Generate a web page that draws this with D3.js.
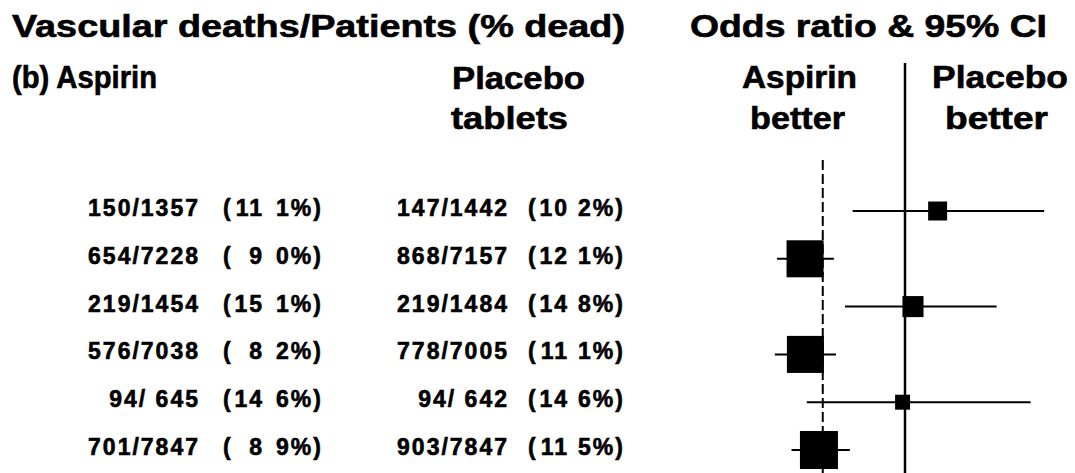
<!DOCTYPE html>
<html>
<head>
<meta charset="utf-8">
<script src="https://cdn.jsdelivr.net/npm/d3@7/dist/d3.min.js"></script>
<style>
  html, body { margin: 0; padding: 0; background: #fff; }
  svg { display: block; }
  text { font-family: "Liberation Sans", Arial, Helvetica, sans-serif; font-weight: bold; fill: #000; stroke: #000; stroke-width: 0.6px; }
</style>
</head>
<body>
<svg id="chart" width="1075" height="473"></svg>
<script>
// ---- data ----
const aspirinDeaths   = [150, 654, 219, 576, 94, 701];
const aspirinPatients = [1357, 7228, 1454, 7038, 645, 7847];
const aspirinPct      = [11.1, 9.0, 15.1, 8.2, 14.6, 8.9];
const placeboDeaths   = [147, 868, 219, 778, 94, 903];
const placeboPatients = [1442, 7157, 1484, 7005, 642, 7847];
const placeboPct      = [10.2, 12.1, 14.8, 11.1, 14.6, 11.5];
const oddsRatio       = [1.094, 0.712, 1.023, 0.713, 0.993, 0.752];
const ciLow           = [0.849, 0.631, 0.827, 0.625, 0.717, 0.673];
const ciHigh          = [1.401, 0.795, 1.264, 0.801, 1.362, 0.841];
const weightPct       = [6.9, 26.3, 8.5, 26.3, 4.3, 27.7];
const overallOR       = 0.763;
const nullOR          = 1;

const rows = d3.range(aspirinDeaths.length);
const svg = d3.select("#chart");

// ---- scales ----
const x = d3.scaleLinear().domain([0.6, 1.4]).range([766.2, 1043.8]);
const y = d3.scalePoint().domain(rows).range([211, 450]);
const side = d3.scaleSqrt().domain([0, 100]).range([0, 72.2]);

// ---- headings ----
const headFont = 31;
const headings = [
  {t: "Vascular deaths/Patients (% dead)", x: 12,  y: 37,  len: 613},
  {t: "Odds ratio & 95% CI",               x: 690, y: 37,  len: 357},
  {t: "(b) Aspirin",                       x: 12,  y: 88,  len: 145},
  {t: "Placebo",                           x: 452, y: 89,  len: 133},
  {t: "tablets",                           x: 451, y: 129, len: 117},
  {t: "Aspirin",                           x: 742, y: 88,  len: 115},
  {t: "better",                            x: 750, y: 129, len: 95},
  {t: "Placebo",                           x: 932, y: 88,  len: 136},
  {t: "better",                            x: 945, y: 129, len: 103}
];
svg.append("g").selectAll("text").data(headings).join("text")
  .attr("x", d => d.x).attr("y", d => d.y)
  .attr("font-size", headFont)
  .attr("textLength", d => d.len)
  .attr("lengthAdjust", "spacingAndGlyphs")
  .text(d => d.t);

// ---- number columns ----
const numFont = 23;
const ls = 2;
function pctParts(v) {
  const s = v.toFixed(1).split(".");
  return {i: s[0], d: s[1]};
}
function column(deaths, patients, pct, fracRight, parenX, intRight, decX) {
  const g = svg.append("g").attr("font-size", numFont).style("letter-spacing", ls + "px");
  rows.forEach(i => {
    const yy = y(i) + 5;
    const dStr = String(deaths[i]);
    const pStr = String(patients[i]);
    g.append("text").attr("x", fracRight).attr("y", yy).attr("text-anchor", "end")
      .style("white-space", "pre")
      .text(dStr + "/" + (pStr.length < 4 ? " " + pStr : pStr));
    g.append("text").attr("x", parenX).attr("y", yy).text("(");
    const p = pctParts(pct[i]);
    g.append("text").attr("x", intRight).attr("y", yy).attr("text-anchor", "end").text(p.i);
    g.append("text").attr("x", decX).attr("y", yy).text(p.d + "%)");
  });
}
column(aspirinDeaths, aspirinPatients, aspirinPct, 200, 223, 264, 276);
column(placeboDeaths, placeboPatients, placeboPct, 509, 528, 569, 578);

// ---- forest plot ----
const lineTop = 63, lineBottom = 473;
svg.append("line")
  .attr("x1", x(nullOR)).attr("x2", x(nullOR))
  .attr("y1", lineTop).attr("y2", lineBottom)
  .attr("stroke", "#000").attr("stroke-width", 2.5);

svg.append("line")
  .attr("x1", x(overallOR)).attr("x2", x(overallOR))
  .attr("y1", 160).attr("y2", lineBottom)
  .attr("stroke", "#000").attr("stroke-width", 2)
  .attr("stroke-dasharray", "10,4");

const fg = svg.append("g");
fg.selectAll("line.ci").data(rows).join("line")
  .attr("class", "ci")
  .attr("x1", i => x(ciLow[i])).attr("x2", i => x(ciHigh[i]))
  .attr("y1", i => y(i)).attr("y2", i => y(i))
  .attr("stroke", "#000").attr("stroke-width", 2);

fg.selectAll("rect.box").data(rows).join("rect")
  .attr("class", "box")
  .attr("x", i => x(oddsRatio[i]) - side(weightPct[i]) / 2)
  .attr("y", i => y(i) - side(weightPct[i]) / 2)
  .attr("width", i => side(weightPct[i]))
  .attr("height", i => side(weightPct[i]))
  .attr("fill", "#000");
</script>
</body>
</html>
